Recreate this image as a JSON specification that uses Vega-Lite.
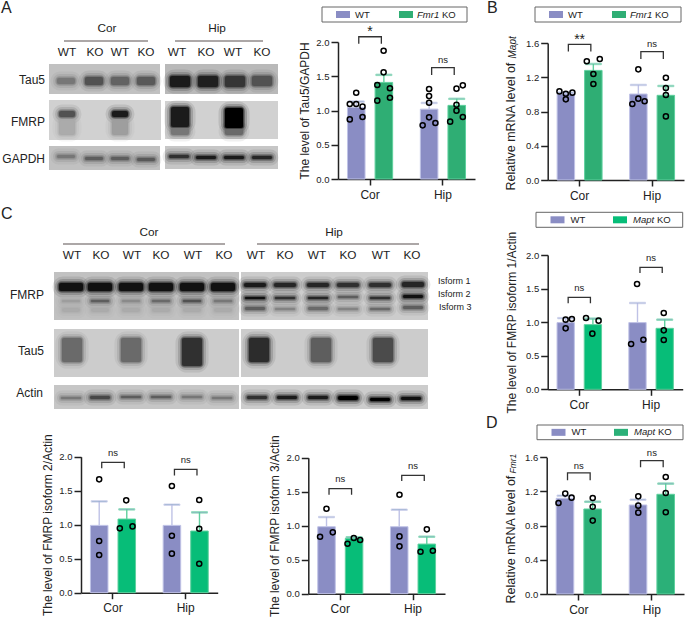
{
"$schema":"https://vega.github.io/schema/vega-lite/v6.json",
"background":"white",
"padding":0,
"autosize":{"type":"none"},
"width":685,"height":618,
"config":{"font":"Liberation Sans","view":{"stroke":null},
"axis":{"grid":false,"domainColor":"#222222","tickColor":"#222222","labelColor":"#222222","titleColor":"#222222","domainWidth":1.5,"tickWidth":1.5,"titleFontWeight":"normal"},
"axisY":{"tickSize":7,"labelFontSize":9.5,"titleFontSize":12,"labelPadding":2,"titleX":-27},
"axisX":{"tickSize":6,"labelFontSize":12,"labelPadding":4,"title":null,"labelAngle":0}},
"datasets":{
"legendFmr1":[{"genotype":"WT","gene":""},{"genotype":"KO","gene":"Fmr1"}],
"legendMapt":[{"genotype":"WT","gene":""},{"genotype":"KO","gene":"Mapt"}],
"panels":[
{"x0":49,"x1":160,"y0":64,"y1":94,"shade":0.22},{"x0":165,"x1":278,"y0":64,"y1":94,"shade":0.25},
{"x0":49,"x1":161,"y0":100,"y1":140,"shade":0.16},{"x0":165,"x1":278,"y0":101,"y1":139,"shade":0.16},
{"x0":49,"x1":160,"y0":146,"y1":170,"shade":0.22},{"x0":165,"x1":278,"y0":146,"y1":169,"shade":0.2},
{"x0":54,"x1":239,"y0":272,"y1":320,"shade":0.22},{"x0":241,"x1":428,"y0":272,"y1":320,"shade":0.18},
{"x0":54,"x1":239,"y0":329,"y1":377,"shade":0.18},{"x0":241,"x1":428,"y0":329,"y1":377,"shade":0.18},
{"x0":54,"x1":239,"y0":385,"y1":409,"shade":0.2},{"x0":241,"x1":428,"y0":385,"y1":409,"shade":0.18}],
"bands":[
{"x0":57,"x1":75,"y0":78,"y1":84,"shade":0.5},{"x0":85,"x1":103,"y0":77,"y1":85,"shade":0.65},{"x0":111,"x1":129,"y0":77,"y1":85,"shade":0.58},{"x0":137,"x1":155,"y0":77,"y1":85,"shade":0.62},
{"x0":170,"x1":190,"y0":76,"y1":87,"shade":0.9},{"x0":198,"x1":218,"y0":76,"y1":87,"shade":0.88},{"x0":225,"x1":245,"y0":76,"y1":87,"shade":0.78},{"x0":252,"x1":272,"y0":76,"y1":86,"shade":0.65},
{"x0":59,"x1":75,"y0":120,"y1":135,"shade":0.3},{"x0":112,"x1":128,"y0":120,"y1":135,"shade":0.35},{"x0":59,"x1":75,"y0":111,"y1":117,"shade":0.65},{"x0":112,"x1":128,"y0":111,"y1":117,"shade":0.9},
{"x0":171,"x1":189,"y0":128,"y1":135,"shade":0.5},{"x0":225,"x1":243,"y0":128,"y1":135,"shade":0.55},{"x0":171,"x1":189,"y0":107,"y1":127,"shade":0.9},{"x0":225,"x1":243,"y0":108,"y1":128,"shade":1},
{"x0":57,"x1":75,"y0":155,"y1":158,"shade":0.5},{"x0":85,"x1":103,"y0":157,"y1":160,"shade":0.6},{"x0":111,"x1":129,"y0":157,"y1":160,"shade":0.6},{"x0":137,"x1":155,"y0":158,"y1":161,"shade":0.62},
{"x0":169,"x1":189,"y0":155,"y1":158,"shade":0.8},{"x0":196,"x1":216,"y0":156,"y1":159,"shade":0.9},{"x0":224,"x1":244,"y0":156,"y1":159,"shade":0.9},{"x0":252,"x1":272,"y0":156,"y1":159,"shade":0.85},
{"x0":59,"x1":83,"y0":283,"y1":291,"shade":0.95},{"x0":88,"x1":112,"y0":283,"y1":291,"shade":0.95},{"x0":119,"x1":143,"y0":283,"y1":291,"shade":0.95},{"x0":149,"x1":173,"y0":283,"y1":291,"shade":0.95},{"x0":180,"x1":204,"y0":283,"y1":291,"shade":0.95},{"x0":211,"x1":235,"y0":283,"y1":291,"shade":0.95},
{"x0":62,"x1":80,"y0":300,"y1":302,"shade":0.35},{"x0":91,"x1":109,"y0":300,"y1":302,"shade":0.6},{"x0":122,"x1":140,"y0":300,"y1":302,"shade":0.42},{"x0":152,"x1":170,"y0":300,"y1":302,"shade":0.55},{"x0":183,"x1":201,"y0":300,"y1":302,"shade":0.65},{"x0":214,"x1":232,"y0":300,"y1":302,"shade":0.5},
{"x0":62,"x1":80,"y0":308,"y1":312,"shade":0.3},{"x0":91,"x1":109,"y0":308,"y1":312,"shade":0.3},{"x0":122,"x1":140,"y0":308,"y1":312,"shade":0.3},{"x0":152,"x1":170,"y0":308,"y1":312,"shade":0.3},{"x0":183,"x1":201,"y0":308,"y1":312,"shade":0.3},{"x0":214,"x1":232,"y0":308,"y1":312,"shade":0.3},
{"x0":244,"x1":266,"y0":283,"y1":287,"shade":0.9},{"x0":274,"x1":296,"y0":283,"y1":287,"shade":0.85},{"x0":307,"x1":329,"y0":283,"y1":287,"shade":0.85},{"x0":337,"x1":359,"y0":283,"y1":287,"shade":0.8},{"x0":369,"x1":391,"y0":283,"y1":287,"shade":0.8},{"x0":402,"x1":424,"y0":282,"y1":287,"shade":0.85},
{"x0":245,"x1":265,"y0":297,"y1":299,"shade":0.95},{"x0":275,"x1":295,"y0":297,"y1":299,"shade":0.8},{"x0":308,"x1":328,"y0":297,"y1":299,"shade":0.85},{"x0":338,"x1":358,"y0":296,"y1":298,"shade":0.6},{"x0":370,"x1":390,"y0":297,"y1":299,"shade":0.8},{"x0":403,"x1":423,"y0":295,"y1":298,"shade":0.95},
{"x0":245,"x1":265,"y0":307,"y1":310,"shade":0.6},{"x0":275,"x1":295,"y0":308,"y1":310,"shade":0.45},{"x0":308,"x1":328,"y0":307,"y1":310,"shade":0.55},{"x0":338,"x1":358,"y0":308,"y1":310,"shade":0.45},{"x0":370,"x1":390,"y0":308,"y1":310,"shade":0.55},{"x0":403,"x1":423,"y0":306,"y1":309,"shade":0.6},
{"x0":62,"x1":82,"y0":338,"y1":362,"shade":0.55},{"x0":121,"x1":141,"y0":338,"y1":362,"shade":0.55},{"x0":182,"x1":202,"y0":338,"y1":366,"shade":0.8},
{"x0":249,"x1":269,"y0":338,"y1":362,"shade":0.82},{"x0":311,"x1":331,"y0":338,"y1":362,"shade":0.6},{"x0":373,"x1":393,"y0":338,"y1":362,"shade":0.68},
{"x0":61,"x1":81,"y0":397,"y1":399,"shade":0.5},{"x0":90,"x1":110,"y0":396,"y1":399,"shade":0.7},{"x0":121,"x1":141,"y0":396,"y1":398,"shade":0.6},{"x0":151,"x1":171,"y0":396,"y1":398,"shade":0.6},{"x0":182,"x1":202,"y0":396,"y1":398,"shade":0.5},{"x0":212,"x1":232,"y0":397,"y1":399,"shade":0.5},
{"x0":247,"x1":267,"y0":396,"y1":399,"shade":0.8},{"x0":277,"x1":297,"y0":396,"y1":399,"shade":0.9},{"x0":308,"x1":328,"y0":396,"y1":399,"shade":0.9},{"x0":338,"x1":358,"y0":396,"y1":400,"shade":1},{"x0":370,"x1":390,"y0":398,"y1":401,"shade":1},{"x0":401,"x1":421,"y0":397,"y1":400,"shade":0.95}],
"lanes":[{"label":"Cor","x0":107,"y0":28},{"label":"Hip","x0":217,"y0":28},
{"label":"WT","x0":67,"y0":52},{"label":"KO","x0":95,"y0":52},{"label":"WT","x0":120,"y0":52},{"label":"KO","x0":146,"y0":52},{"label":"WT","x0":177,"y0":52},{"label":"KO","x0":206,"y0":52},{"label":"WT","x0":233,"y0":52},{"label":"KO","x0":262,"y0":52},
{"label":"Cor","x0":149,"y0":232},{"label":"Hip","x0":334,"y0":232},
{"label":"WT","x0":72,"y0":255},{"label":"KO","x0":101,"y0":255},{"label":"WT","x0":132,"y0":255},{"label":"KO","x0":161,"y0":255},{"label":"WT","x0":193,"y0":255},{"label":"KO","x0":224,"y0":255},{"label":"WT","x0":256,"y0":255},{"label":"KO","x0":285,"y0":255},{"label":"WT","x0":317,"y0":255},{"label":"KO","x0":348,"y0":255},{"label":"WT","x0":381,"y0":255},{"label":"KO","x0":412,"y0":255}],
"rows":[{"label":"Tau5","x0":45,"y0":80},{"label":"FMRP","x0":45,"y0":122},{"label":"GAPDH","x0":45,"y0":159},{"label":"FMRP","x0":44,"y0":295},{"label":"Tau5","x0":44,"y0":351},{"label":"Actin","x0":43,"y0":393}],
"iso":[{"label":"Isform 1","x0":438,"y0":281},{"label":"Isform 2","x0":438,"y0":294},{"label":"Isform 3","x0":439,"y0":307}],
"lines":[{"x0":64,"x1":148,"y0":41},{"x0":175,"x1":263,"y0":41},{"x0":63,"x1":225,"y0":244},{"x0":257,"x1":419,"y0":244}],
"letters":[{"label":"A","x0":1,"y0":8},{"label":"B","x0":487,"y0":8},{"label":"C","x0":1,"y0":214},{"label":"D","x0":486,"y0":423}],
"barsA":[{"group":"Cor","genotype":"WT","mean":1.046,"upper":1.13},{"group":"Cor","genotype":"KO","mean":1.41,"upper":1.52},{"group":"Hip","genotype":"WT","mean":1.02,"upper":1.11},{"group":"Hip","genotype":"KO","mean":1.075,"upper":1.17}],
"ptsA":[{"group":"Cor","jitter":2.3,"value":0.87},{"group":"Cor","jitter":2.3,"value":1.095},{"group":"Cor","jitter":8.7,"value":1.26},{"group":"Cor","jitter":8.7,"value":1.095},{"group":"Cor","jitter":15,"value":1.056},{"group":"Cor","jitter":15,"value":0.905},
{"group":"Cor","jitter":36,"value":1.873},{"group":"Cor","jitter":36,"value":1.557},{"group":"Cor","jitter":29.7,"value":1.372},{"group":"Cor","jitter":42.3,"value":1.324},{"group":"Cor","jitter":29.7,"value":1.144},{"group":"Cor","jitter":42.3,"value":1.187},
{"group":"Hip","jitter":8.7,"value":1.314},{"group":"Hip","jitter":8.7,"value":1.21},{"group":"Hip","jitter":8.7,"value":1.114},{"group":"Hip","jitter":8.7,"value":0.9},{"group":"Hip","jitter":2.3,"value":0.783},{"group":"Hip","jitter":15,"value":0.817},
{"group":"Hip","jitter":36,"value":1.319},{"group":"Hip","jitter":42.3,"value":1.367},{"group":"Hip","jitter":36,"value":1.085},{"group":"Hip","jitter":36,"value":0.998},{"group":"Hip","jitter":29.7,"value":0.837},{"group":"Hip","jitter":42.3,"value":0.905}],
"brA":[{"group":"Cor","genotype":"WT","y":1.975,"seq":1},{"group":"Cor","genotype":"WT","y":2.077,"seq":2},{"group":"Cor","genotype":"KO","y":2.077,"seq":3},{"group":"Cor","genotype":"KO","y":1.975,"seq":4},
{"group":"Hip","genotype":"WT","y":1.52,"seq":1},{"group":"Hip","genotype":"WT","y":1.625,"seq":2},{"group":"Hip","genotype":"KO","y":1.625,"seq":3},{"group":"Hip","genotype":"KO","y":1.52,"seq":4}],
"sigA":[{"group":"Cor","y":2.14,"label":"*"},{"group":"Hip","y":1.74,"label":"ns"}],
"barsB":[{"group":"Cor","genotype":"WT","mean":1.004,"upper":1.02},{"group":"Cor","genotype":"KO","mean":1.28,"upper":1.355},{"group":"Hip","genotype":"WT","mean":1.004,"upper":1.11},{"group":"Hip","genotype":"KO","mean":0.989,"upper":1.098}],
"ptsB":[{"group":"Cor","jitter":2.3,"value":1.035},{"group":"Cor","jitter":8.7,"value":0.942},{"group":"Cor","jitter":8.7,"value":1.008},{"group":"Cor","jitter":15.3,"value":1.02},
{"group":"Cor","jitter":29.7,"value":1.386},{"group":"Cor","jitter":42.7,"value":1.413},{"group":"Cor","jitter":36.3,"value":1.238},{"group":"Cor","jitter":36.3,"value":1.121},
{"group":"Hip","jitter":8.7,"value":1.292},{"group":"Hip","jitter":8.7,"value":0.95},{"group":"Hip","jitter":2.7,"value":0.887},{"group":"Hip","jitter":15,"value":0.919},
{"group":"Hip","jitter":36.3,"value":1.195},{"group":"Hip","jitter":36.3,"value":1.074},{"group":"Hip","jitter":36.3,"value":0.993},{"group":"Hip","jitter":36.3,"value":0.743}],
"brB":[{"group":"Cor","genotype":"WT","y":1.5,"seq":1},{"group":"Cor","genotype":"WT","y":1.584,"seq":2},{"group":"Cor","genotype":"KO","y":1.584,"seq":3},{"group":"Cor","genotype":"KO","y":1.5,"seq":4},
{"group":"Hip","genotype":"WT","y":1.413,"seq":1},{"group":"Hip","genotype":"WT","y":1.5,"seq":2},{"group":"Hip","genotype":"KO","y":1.5,"seq":3},{"group":"Hip","genotype":"KO","y":1.413,"seq":4}],
"sigB":[{"group":"Cor","y":1.64,"label":"**"},{"group":"Hip","y":1.584,"label":"ns"}],
"barsC1":[{"group":"Cor","genotype":"WT","mean":0.993,"upper":1.06},{"group":"Cor","genotype":"KO","mean":0.963,"upper":1.052},{"group":"Hip","genotype":"WT","mean":0.993,"upper":1.285},{"group":"Hip","genotype":"KO","mean":0.908,"upper":1.037}],
"ptsC1":[{"group":"Cor","jitter":8.7,"value":1.037},{"group":"Cor","jitter":15,"value":1.047},{"group":"Cor","jitter":8.7,"value":0.908},{"group":"Cor","jitter":29.3,"value":1.062},{"group":"Cor","jitter":42,"value":1.022},{"group":"Cor","jitter":35.7,"value":0.829},
{"group":"Hip","jitter":8.3,"value":1.568},{"group":"Hip","jitter":2.3,"value":0.675},{"group":"Hip","jitter":14.7,"value":0.739},{"group":"Hip","jitter":35.3,"value":1.136},{"group":"Hip","jitter":35.3,"value":0.878},{"group":"Hip","jitter":35.3,"value":0.734}],
"brC1":[{"group":"Cor","genotype":"WT","y":1.28,"seq":1},{"group":"Cor","genotype":"WT","y":1.37,"seq":2},{"group":"Cor","genotype":"KO","y":1.37,"seq":3},{"group":"Cor","genotype":"KO","y":1.28,"seq":4},
{"group":"Hip","genotype":"WT","y":1.732,"seq":1},{"group":"Hip","genotype":"WT","y":1.816,"seq":2},{"group":"Hip","genotype":"KO","y":1.816,"seq":3},{"group":"Hip","genotype":"KO","y":1.732,"seq":4}],
"sigC1":[{"group":"Cor","y":1.504,"label":"ns"},{"group":"Hip","y":1.95,"label":"ns"}],
"barsD":[{"group":"Cor","genotype":"WT","mean":1.12,"upper":1.15},{"group":"Cor","genotype":"KO","mean":0.995,"upper":1.08},{"group":"Hip","genotype":"WT","mean":1.042,"upper":1.104},{"group":"Hip","genotype":"KO","mean":1.167,"upper":1.292}],
"ptsD":[{"group":"Cor","jitter":2.3,"value":1.065},{"group":"Cor","jitter":9,"value":1.175},{"group":"Cor","jitter":15.3,"value":1.128},{"group":"Cor","jitter":36.3,"value":1.124},{"group":"Cor","jitter":36.3,"value":1.022},{"group":"Cor","jitter":36.3,"value":0.859},
{"group":"Hip","jitter":9,"value":1.143},{"group":"Hip","jitter":9,"value":1.034},{"group":"Hip","jitter":9,"value":0.952},{"group":"Hip","jitter":36.3,"value":1.37},{"group":"Hip","jitter":36.3,"value":1.182},{"group":"Hip","jitter":36.3,"value":0.956}],
"brD":[{"group":"Cor","genotype":"WT","y":1.33,"seq":1},{"group":"Cor","genotype":"WT","y":1.417,"seq":2},{"group":"Cor","genotype":"KO","y":1.417,"seq":3},{"group":"Cor","genotype":"KO","y":1.33,"seq":4},
{"group":"Hip","genotype":"WT","y":1.483,"seq":1},{"group":"Hip","genotype":"WT","y":1.561,"seq":2},{"group":"Hip","genotype":"KO","y":1.561,"seq":3},{"group":"Hip","genotype":"KO","y":1.483,"seq":4}],
"sigD":[{"group":"Cor","y":1.5,"label":"ns"},{"group":"Hip","y":1.647,"label":"ns"}],
"barsC2":[{"group":"Cor","genotype":"WT","mean":0.99,"upper":1.343},{"group":"Cor","genotype":"KO","mean":1.083,"upper":1.225},{"group":"Hip","genotype":"WT","mean":0.99,"upper":1.294},{"group":"Hip","genotype":"KO","mean":0.907,"upper":1.181}],
"ptsC2":[{"group":"Cor","jitter":8.7,"value":1.667},{"group":"Cor","jitter":8.7,"value":0.76},{"group":"Cor","jitter":8.7,"value":0.554},{"group":"Cor","jitter":35.7,"value":1.358},{"group":"Cor","jitter":29.3,"value":0.946},{"group":"Cor","jitter":42,"value":0.975},
{"group":"Hip","jitter":8.7,"value":1.569},{"group":"Hip","jitter":8.7,"value":0.838},{"group":"Hip","jitter":8.7,"value":0.574},{"group":"Hip","jitter":36,"value":1.363},{"group":"Hip","jitter":36,"value":0.941},{"group":"Hip","jitter":36,"value":0.426}],
"brC2":[{"group":"Cor","genotype":"WT","y":1.83,"seq":1},{"group":"Cor","genotype":"WT","y":1.917,"seq":2},{"group":"Cor","genotype":"KO","y":1.917,"seq":3},{"group":"Cor","genotype":"KO","y":1.83,"seq":4},
{"group":"Hip","genotype":"WT","y":1.725,"seq":1},{"group":"Hip","genotype":"WT","y":1.814,"seq":2},{"group":"Hip","genotype":"KO","y":1.814,"seq":3},{"group":"Hip","genotype":"KO","y":1.725,"seq":4}],
"sigC2":[{"group":"Cor","y":2.05,"label":"ns"},{"group":"Hip","y":1.95,"label":"ns"}],
"barsC3":[{"group":"Cor","genotype":"WT","mean":0.985,"upper":1.127},{"group":"Cor","genotype":"KO","mean":0.814,"upper":0.83},{"group":"Hip","genotype":"WT","mean":0.985,"upper":1.235},{"group":"Hip","genotype":"KO","mean":0.73,"upper":0.838}],
"ptsC3":[{"group":"Cor","jitter":8.7,"value":1.25},{"group":"Cor","jitter":2.3,"value":0.838},{"group":"Cor","jitter":15,"value":0.902},{"group":"Cor","jitter":29.7,"value":0.735},{"group":"Cor","jitter":36,"value":0.819},{"group":"Cor","jitter":42.3,"value":0.789},
{"group":"Hip","jitter":9,"value":1.456},{"group":"Hip","jitter":9,"value":0.843},{"group":"Hip","jitter":9,"value":0.696},{"group":"Hip","jitter":36.3,"value":0.946},{"group":"Hip","jitter":30,"value":0.618},{"group":"Hip","jitter":42.3,"value":0.632}],
"brC3":[{"group":"Cor","genotype":"WT","y":1.456,"seq":1},{"group":"Cor","genotype":"WT","y":1.544,"seq":2},{"group":"Cor","genotype":"KO","y":1.544,"seq":3},{"group":"Cor","genotype":"KO","y":1.456,"seq":4},
{"group":"Hip","genotype":"WT","y":1.657,"seq":1},{"group":"Hip","genotype":"WT","y":1.74,"seq":2},{"group":"Hip","genotype":"KO","y":1.74,"seq":3},{"group":"Hip","genotype":"KO","y":1.657,"seq":4}],
"sigC3":[{"group":"Cor","y":1.68,"label":"ns"},{"group":"Hip","y":1.877,"label":"ns"}]
},
"resolve":{"scale":{"x":"independent","y":"independent","xOffset":"independent","fill":"independent","stroke":"independent","size":"independent"},"axis":{"x":"independent","y":"independent"}},
"layer":[
{"encoding":{"x":{"field":"x0","type":"quantitative","scale":{"domain":[0,685],"nice":false,"zero":false},"axis":null},"y":{"field":"y0","type":"quantitative","scale":{"domain":[618,0],"nice":false,"zero":false},"axis":null}},
 "layer":[
  {"data":{"name":"panels"},"mark":{"type":"rect"},"encoding":{"x2":{"field":"x1"},"y2":{"field":"y1"},"fill":{"field":"shade","type":"quantitative","scale":{"domain":[0,1],"range":["#ffffff","#000000"]},"legend":null}}},
  {"data":{"name":"bands"},"mark":{"type":"rect","cornerRadius":5,"strokeWidth":13,"strokeOpacity":0.1,"fillOpacity":0},"encoding":{"x2":{"field":"x1"},"y2":{"field":"y1"},"fill":{"field":"shade","type":"quantitative","scale":{"domain":[0,1],"range":["#ffffff","#000000"]},"legend":null},"stroke":{"field":"shade","type":"quantitative","scale":{"domain":[0,1],"range":["#ffffff","#000000"]},"legend":null}}},
  {"data":{"name":"bands"},"mark":{"type":"rect","cornerRadius":4,"strokeWidth":8,"strokeOpacity":0.18,"fillOpacity":0},"encoding":{"x2":{"field":"x1"},"y2":{"field":"y1"},"fill":{"field":"shade","type":"quantitative","scale":{"domain":[0,1],"range":["#ffffff","#000000"]},"legend":null},"stroke":{"field":"shade","type":"quantitative","scale":{"domain":[0,1],"range":["#ffffff","#000000"]},"legend":null}}},
  {"data":{"name":"bands"},"mark":{"type":"rect","cornerRadius":3,"strokeWidth":4,"strokeOpacity":0.3,"fillOpacity":0},"encoding":{"x2":{"field":"x1"},"y2":{"field":"y1"},"fill":{"field":"shade","type":"quantitative","scale":{"domain":[0,1],"range":["#ffffff","#000000"]},"legend":null},"stroke":{"field":"shade","type":"quantitative","scale":{"domain":[0,1],"range":["#ffffff","#000000"]},"legend":null}}},
  {"data":{"name":"bands"},"mark":{"type":"rect","cornerRadius":2,"strokeWidth":1.5,"strokeOpacity":0.5,"fillOpacity":1},"encoding":{"x2":{"field":"x1"},"y2":{"field":"y1"},"fill":{"field":"shade","type":"quantitative","scale":{"domain":[0,1],"range":["#ffffff","#000000"]},"legend":null},"stroke":{"field":"shade","type":"quantitative","scale":{"domain":[0,1],"range":["#ffffff","#000000"]},"legend":null}}},
  {"data":{"name":"lines"},"mark":{"type":"rule","stroke":"#5a5050","strokeWidth":1.2},"encoding":{"x2":{"field":"x1"}}},
  {"data":{"name":"lanes"},"mark":{"type":"text","fontSize":11.8,"align":"center","baseline":"middle","fill":"#222222"},"encoding":{"text":{"field":"label"}}},
  {"data":{"name":"rows"},"mark":{"type":"text","fontSize":12,"align":"right","baseline":"middle","fill":"#222222"},"encoding":{"text":{"field":"label"}}},
  {"data":{"name":"iso"},"mark":{"type":"text","fontSize":9,"align":"left","baseline":"middle","fill":"#222222"},"encoding":{"text":{"field":"label"}}},
  {"data":{"name":"letters"},"mark":{"type":"text","fontSize":16,"align":"left","baseline":"middle","fill":"#222222"},"encoding":{"text":{"field":"label"}}}
 ]},
{"resolve":{"scale":{"x":"independent"}},"encoding":{"y":{"datum":0.5,"type":"quantitative","scale":{"domain":[0,1],"range":[22,7]},"axis":null}},"layer":[
  {"data":{"values":[{}]},"mark":{"type":"rect","fill":null,"fillOpacity":0,"stroke":"#666666","strokeWidth":1},"encoding":{"x":{"datum":0,"type":"quantitative","scale":{"domain":[0,1],"range":[322,467]},"axis":null},"x2":{"datum":1},"y":{"datum":0,"type":"quantitative","scale":{"domain":[0,1],"range":[22,7]},"axis":null},"y2":{"datum":1}}},
  {"data":{"name":"legendFmr1"},"mark":{"type":"point","filled":true,"opacity":1,"size":196,"shape":"M-1,-0.5H1V0.5H-1Z"},"encoding":{"x":{"field":"genotype","type":"nominal","scale":{"type":"point","padding":0,"domain":["WT","KO"],"range":[343,406]},"axis":null},"fill":{"field":"genotype","type":"nominal","scale":{"domain":["WT","KO"],"range":["#8A8DC4","#2FAE74"]},"legend":null}}},
  {"data":{"name":"legendFmr1"},"transform":[{"filter":"datum.genotype==='WT'"}],"mark":{"type":"text","fontSize":9.5,"align":"left","dx":12,"fill":"#222222"},"encoding":{"x":{"field":"genotype","type":"nominal","scale":{"type":"point","padding":0,"domain":["WT","KO"],"range":[343,406]},"axis":null},"text":{"field":"genotype"}}},
  {"data":{"name":"legendFmr1"},"transform":[{"filter":"datum.genotype==='KO'"}],"mark":{"type":"text","fontSize":9.5,"align":"left","dx":11,"fontStyle":"italic","fill":"#222222"},"encoding":{"x":{"field":"genotype","type":"nominal","scale":{"type":"point","padding":0,"domain":["WT","KO"],"range":[343,406]},"axis":null},"text":{"field":"gene"}}},
  {"data":{"name":"legendFmr1"},"transform":[{"filter":"datum.genotype==='KO'"}],"mark":{"type":"text","fontSize":9.5,"align":"left","dx":36,"fill":"#222222"},"encoding":{"x":{"field":"genotype","type":"nominal","scale":{"type":"point","padding":0,"domain":["WT","KO"],"range":[343,406]},"axis":null},"text":{"field":"genotype"}}}
 ]},
{"resolve":{"scale":{"x":"independent"}},"encoding":{"y":{"datum":0.5,"type":"quantitative","scale":{"domain":[0,1],"range":[22,7]},"axis":null}},"layer":[
  {"data":{"values":[{}]},"mark":{"type":"rect","fill":null,"fillOpacity":0,"stroke":"#666666","strokeWidth":1},"encoding":{"x":{"datum":0,"type":"quantitative","scale":{"domain":[0,1],"range":[535,681]},"axis":null},"x2":{"datum":1},"y":{"datum":0,"type":"quantitative","scale":{"domain":[0,1],"range":[22,7]},"axis":null},"y2":{"datum":1}}},
  {"data":{"name":"legendFmr1"},"mark":{"type":"point","filled":true,"opacity":1,"size":196,"shape":"M-1,-0.5H1V0.5H-1Z"},"encoding":{"x":{"field":"genotype","type":"nominal","scale":{"type":"point","padding":0,"domain":["WT","KO"],"range":[556,619]},"axis":null},"fill":{"field":"genotype","type":"nominal","scale":{"domain":["WT","KO"],"range":["#8A8DC4","#2FAE74"]},"legend":null}}},
  {"data":{"name":"legendFmr1"},"transform":[{"filter":"datum.genotype==='WT'"}],"mark":{"type":"text","fontSize":9.5,"align":"left","dx":12,"fill":"#222222"},"encoding":{"x":{"field":"genotype","type":"nominal","scale":{"type":"point","padding":0,"domain":["WT","KO"],"range":[556,619]},"axis":null},"text":{"field":"genotype"}}},
  {"data":{"name":"legendFmr1"},"transform":[{"filter":"datum.genotype==='KO'"}],"mark":{"type":"text","fontSize":9.5,"align":"left","dx":11,"fontStyle":"italic","fill":"#222222"},"encoding":{"x":{"field":"genotype","type":"nominal","scale":{"type":"point","padding":0,"domain":["WT","KO"],"range":[556,619]},"axis":null},"text":{"field":"gene"}}},
  {"data":{"name":"legendFmr1"},"transform":[{"filter":"datum.genotype==='KO'"}],"mark":{"type":"text","fontSize":9.5,"align":"left","dx":36,"fill":"#222222"},"encoding":{"x":{"field":"genotype","type":"nominal","scale":{"type":"point","padding":0,"domain":["WT","KO"],"range":[556,619]},"axis":null},"text":{"field":"genotype"}}}
 ]},
{"resolve":{"scale":{"x":"independent"}},"encoding":{"y":{"datum":0.5,"type":"quantitative","scale":{"domain":[0,1],"range":[227.3,212.3]},"axis":null}},"layer":[
  {"data":{"values":[{}]},"mark":{"type":"rect","fill":null,"fillOpacity":0,"stroke":"#666666","strokeWidth":1},"encoding":{"x":{"datum":0,"type":"quantitative","scale":{"domain":[0,1],"range":[536,682.7]},"axis":null},"x2":{"datum":1},"y":{"datum":0,"type":"quantitative","scale":{"domain":[0,1],"range":[227.3,212.3]},"axis":null},"y2":{"datum":1}}},
  {"data":{"name":"legendMapt"},"mark":{"type":"point","filled":true,"opacity":1,"size":196,"shape":"M-1,-0.5H1V0.5H-1Z"},"encoding":{"x":{"field":"genotype","type":"nominal","scale":{"type":"point","padding":0,"domain":["WT","KO"],"range":[557.5,620]},"axis":null},"fill":{"field":"genotype","type":"nominal","scale":{"domain":["WT","KO"],"range":["#8A8DC4","#07BD78"]},"legend":null}}},
  {"data":{"name":"legendMapt"},"transform":[{"filter":"datum.genotype==='WT'"}],"mark":{"type":"text","fontSize":9.5,"align":"left","dx":13,"fill":"#222222"},"encoding":{"x":{"field":"genotype","type":"nominal","scale":{"type":"point","padding":0,"domain":["WT","KO"],"range":[557.5,620]},"axis":null},"text":{"field":"genotype"}}},
  {"data":{"name":"legendMapt"},"transform":[{"filter":"datum.genotype==='KO'"}],"mark":{"type":"text","fontSize":9.5,"align":"left","dx":13,"fontStyle":"italic","fill":"#222222"},"encoding":{"x":{"field":"genotype","type":"nominal","scale":{"type":"point","padding":0,"domain":["WT","KO"],"range":[557.5,620]},"axis":null},"text":{"field":"gene"}}},
  {"data":{"name":"legendMapt"},"transform":[{"filter":"datum.genotype==='KO'"}],"mark":{"type":"text","fontSize":9.5,"align":"left","dx":37,"fill":"#222222"},"encoding":{"x":{"field":"genotype","type":"nominal","scale":{"type":"point","padding":0,"domain":["WT","KO"],"range":[557.5,620]},"axis":null},"text":{"field":"genotype"}}}
 ]},
{"resolve":{"scale":{"x":"independent"}},"encoding":{"y":{"datum":0.5,"type":"quantitative","scale":{"domain":[0,1],"range":[439.7,425]},"axis":null}},"layer":[
  {"data":{"values":[{}]},"mark":{"type":"rect","fill":null,"fillOpacity":0,"stroke":"#666666","strokeWidth":1},"encoding":{"x":{"datum":0,"type":"quantitative","scale":{"domain":[0,1],"range":[537,683]},"axis":null},"x2":{"datum":1},"y":{"datum":0,"type":"quantitative","scale":{"domain":[0,1],"range":[439.7,425]},"axis":null},"y2":{"datum":1}}},
  {"data":{"name":"legendMapt"},"mark":{"type":"point","filled":true,"opacity":1,"size":196,"shape":"M-1,-0.5H1V0.5H-1Z"},"encoding":{"x":{"field":"genotype","type":"nominal","scale":{"type":"point","padding":0,"domain":["WT","KO"],"range":[558.5,621]},"axis":null},"fill":{"field":"genotype","type":"nominal","scale":{"domain":["WT","KO"],"range":["#8A8DC4","#2BB078"]},"legend":null}}},
  {"data":{"name":"legendMapt"},"transform":[{"filter":"datum.genotype==='WT'"}],"mark":{"type":"text","fontSize":9.5,"align":"left","dx":13,"fill":"#222222"},"encoding":{"x":{"field":"genotype","type":"nominal","scale":{"type":"point","padding":0,"domain":["WT","KO"],"range":[558.5,621]},"axis":null},"text":{"field":"genotype"}}},
  {"data":{"name":"legendMapt"},"transform":[{"filter":"datum.genotype==='KO'"}],"mark":{"type":"text","fontSize":9.5,"align":"left","dx":13,"fontStyle":"italic","fill":"#222222"},"encoding":{"x":{"field":"genotype","type":"nominal","scale":{"type":"point","padding":0,"domain":["WT","KO"],"range":[558.5,621]},"axis":null},"text":{"field":"gene"}}},
  {"data":{"name":"legendMapt"},"transform":[{"filter":"datum.genotype==='KO'"}],"mark":{"type":"text","fontSize":9.5,"align":"left","dx":37,"fill":"#222222"},"encoding":{"x":{"field":"genotype","type":"nominal","scale":{"type":"point","padding":0,"domain":["WT","KO"],"range":[558.5,621]},"axis":null},"text":{"field":"genotype"}}}
 ]},
{"resolve":{"scale":{"xOffset":"independent"},"axis":{"y":"independent"}},
 "encoding":{"x":{"field":"group","type":"nominal","scale":{"domain":["Cor","Hip"],"range":[338,475],"paddingInner":0.38,"paddingOuter":0.13},"axis":{"orient":"bottom","offset":-439}}},
 "layer":[
  {"data":{"name":"barsA"},"mark":{"type":"bar","strokeWidth":1},"encoding":{"xOffset":{"field":"genotype","type":"nominal","scale":{"domain":["WT","KO"],"paddingInner":0.364}},"y":{"field":"mean","type":"quantitative","stack":null,"scale":{"domain":[0,2],"nice":false,"range":[179,42]},"axis":{"orient":"left","offset":-338,"title":"The level of Tau5/GAPDH","values":[0,0.5,1,1.5,2],"format":".1f"}},"fill":{"field":"genotype","type":"nominal","scale":{"domain":["WT","KO"],"range":["#8A8DC4","#2FAE74"]},"legend":null},"stroke":{"field":"genotype","type":"nominal","scale":{"domain":["WT","KO"],"range":["#BFC2E6","#5FD09E"]},"legend":null}}},
  {"data":{"name":"barsA"},"mark":{"type":"rule","strokeWidth":1.4},"encoding":{"xOffset":{"field":"genotype","type":"nominal","scale":{"domain":["WT","KO"],"paddingInner":0.364}},"y":{"field":"mean","type":"quantitative","scale":{"domain":[0,2],"nice":false,"range":[179,42]},"axis":null},"y2":{"field":"upper"},"stroke":{"field":"genotype","type":"nominal","scale":{"domain":["WT","KO"],"range":["#A4A8DC","#2CC48C"]},"legend":null}}},
  {"data":{"name":"barsA"},"mark":{"type":"tick","size":16,"thickness":1.4},"encoding":{"xOffset":{"field":"genotype","type":"nominal","scale":{"domain":["WT","KO"],"paddingInner":0.364}},"y":{"field":"upper","type":"quantitative","scale":{"domain":[0,2],"nice":false,"range":[179,42]},"axis":null},"stroke":{"field":"genotype","type":"nominal","scale":{"domain":["WT","KO"],"range":["#A4A8DC","#2CC48C"]},"legend":null}}},
  {"data":{"name":"ptsA"},"mark":{"type":"point","filled":false,"size":26,"stroke":"#000000","strokeWidth":1.5,"opacity":1},"encoding":{"xOffset":{"field":"jitter","type":"quantitative","scale":{"domain":[0,45]}},"y":{"field":"value","type":"quantitative","scale":{"domain":[0,2],"nice":false,"range":[179,42]},"axis":null}}},
  {"data":{"name":"brA"},"mark":{"type":"line","stroke":"#333333","strokeWidth":1.3},"encoding":{"xOffset":{"field":"genotype","type":"nominal","scale":{"domain":["WT","KO"],"paddingInner":0.364}},"y":{"field":"y","type":"quantitative","scale":{"domain":[0,2],"nice":false,"range":[179,42]},"axis":null},"detail":{"field":"group"},"order":{"field":"seq"}}},
  {"data":{"name":"sigA"},"mark":{"type":"text","fill":"#222222"},"encoding":{"y":{"field":"y","type":"quantitative","scale":{"domain":[0,2],"nice":false,"range":[179,42]},"axis":null},"text":{"field":"label"},"size":{"condition":{"test":"datum.label!=='ns'","value":14},"value":9.5}}}
 ]},
{"resolve":{"scale":{"xOffset":"independent"},"axis":{"y":"independent"}},
 "encoding":{"x":{"field":"group","type":"nominal","scale":{"domain":["Cor","Hip"],"range":[547.7,684],"paddingInner":0.38,"paddingOuter":0.13},"axis":{"orient":"bottom","offset":-438}}},
 "layer":[
  {"data":{"name":"barsB"},"mark":{"type":"bar","strokeWidth":1},"encoding":{"xOffset":{"field":"genotype","type":"nominal","scale":{"domain":["WT","KO"],"paddingInner":0.364}},"y":{"field":"mean","type":"quantitative","stack":null,"scale":{"domain":[0,1.6],"nice":false,"range":[180,43]},"axis":{"orient":"left","offset":-547.7,"title":"Relative mRNA level of","titleFontSize":12.5,"values":[0,0.4,0.8,1.2,1.6],"format":".1f","titleX":-30,"titleY":190,"titleAlign":"left"}},"fill":{"field":"genotype","type":"nominal","scale":{"domain":["WT","KO"],"range":["#8A8DC4","#2FAE74"]},"legend":null},"stroke":{"field":"genotype","type":"nominal","scale":{"domain":["WT","KO"],"range":["#BFC2E6","#5FD09E"]},"legend":null}}},
  {"data":{"name":"barsB"},"mark":{"type":"rule","strokeWidth":1.4},"encoding":{"xOffset":{"field":"genotype","type":"nominal","scale":{"domain":["WT","KO"],"paddingInner":0.364}},"y":{"field":"mean","type":"quantitative","scale":{"domain":[0,1.6],"nice":false,"range":[180,43]},"axis":null},"y2":{"field":"upper"},"stroke":{"field":"genotype","type":"nominal","scale":{"domain":["WT","KO"],"range":["#A4A8DC","#2CC48C"]},"legend":null}}},
  {"data":{"name":"barsB"},"mark":{"type":"tick","size":16,"thickness":1.4},"encoding":{"xOffset":{"field":"genotype","type":"nominal","scale":{"domain":["WT","KO"],"paddingInner":0.364}},"y":{"field":"upper","type":"quantitative","scale":{"domain":[0,1.6],"nice":false,"range":[180,43]},"axis":null},"stroke":{"field":"genotype","type":"nominal","scale":{"domain":["WT","KO"],"range":["#A4A8DC","#2CC48C"]},"legend":null}}},
  {"data":{"name":"ptsB"},"mark":{"type":"point","filled":false,"size":26,"stroke":"#000000","strokeWidth":1.5,"opacity":1},"encoding":{"xOffset":{"field":"jitter","type":"quantitative","scale":{"domain":[0,45]}},"y":{"field":"value","type":"quantitative","scale":{"domain":[0,1.6],"nice":false,"range":[180,43]},"axis":null}}},
  {"data":{"name":"brB"},"mark":{"type":"line","stroke":"#333333","strokeWidth":1.3},"encoding":{"xOffset":{"field":"genotype","type":"nominal","scale":{"domain":["WT","KO"],"paddingInner":0.364}},"y":{"field":"y","type":"quantitative","scale":{"domain":[0,1.6],"nice":false,"range":[180,43]},"axis":null},"detail":{"field":"group"},"order":{"field":"seq"}}},
  {"data":{"name":"sigB"},"mark":{"type":"text","fill":"#222222"},"encoding":{"y":{"field":"y","type":"quantitative","scale":{"domain":[0,1.6],"nice":false,"range":[180,43]},"axis":{"orient":"left","offset":-547.7,"title":"Mapt","titleFontSize":10,"titleFontStyle":"italic","domain":false,"ticks":false,"labels":false,"titleX":-30,"titleY":58,"titleAlign":"left","values":[0]}},"text":{"field":"label"},"size":{"condition":{"test":"datum.label!=='ns'","value":14},"value":9.5}}}
 ]},
{"resolve":{"scale":{"xOffset":"independent"},"axis":{"y":"independent"}},
 "encoding":{"x":{"field":"group","type":"nominal","scale":{"domain":["Cor","Hip"],"range":[547.7,682.7],"paddingInner":0.38,"paddingOuter":0.13},"axis":{"orient":"bottom","offset":-228.7}}},
 "layer":[
  {"data":{"name":"barsC1"},"mark":{"type":"bar","strokeWidth":1},"encoding":{"xOffset":{"field":"genotype","type":"nominal","scale":{"domain":["WT","KO"],"paddingInner":0.364}},"y":{"field":"mean","type":"quantitative","stack":null,"scale":{"domain":[0,2],"nice":false,"range":[389.3,255]},"axis":{"orient":"left","offset":-547.7,"title":"The level of FMRP isoform 1/Actin","titleX":-29.5,"values":[0,0.5,1,1.5,2],"format":".1f"}},"fill":{"field":"genotype","type":"nominal","scale":{"domain":["WT","KO"],"range":["#8A8DC4","#07BD78"]},"legend":null},"stroke":{"field":"genotype","type":"nominal","scale":{"domain":["WT","KO"],"range":["#BFC2E6","#5FD09E"]},"legend":null}}},
  {"data":{"name":"barsC1"},"mark":{"type":"rule","strokeWidth":1.4},"encoding":{"xOffset":{"field":"genotype","type":"nominal","scale":{"domain":["WT","KO"],"paddingInner":0.364}},"y":{"field":"mean","type":"quantitative","scale":{"domain":[0,2],"nice":false,"range":[389.3,255]},"axis":null},"y2":{"field":"upper"},"stroke":{"field":"genotype","type":"nominal","scale":{"domain":["WT","KO"],"range":["#A4A8DC","#2CC48C"]},"legend":null}}},
  {"data":{"name":"barsC1"},"mark":{"type":"tick","size":16,"thickness":1.4},"encoding":{"xOffset":{"field":"genotype","type":"nominal","scale":{"domain":["WT","KO"],"paddingInner":0.364}},"y":{"field":"upper","type":"quantitative","scale":{"domain":[0,2],"nice":false,"range":[389.3,255]},"axis":null},"stroke":{"field":"genotype","type":"nominal","scale":{"domain":["WT","KO"],"range":["#A4A8DC","#2CC48C"]},"legend":null}}},
  {"data":{"name":"ptsC1"},"mark":{"type":"point","filled":false,"size":26,"stroke":"#000000","strokeWidth":1.5,"opacity":1},"encoding":{"xOffset":{"field":"jitter","type":"quantitative","scale":{"domain":[0,45]}},"y":{"field":"value","type":"quantitative","scale":{"domain":[0,2],"nice":false,"range":[389.3,255]},"axis":null}}},
  {"data":{"name":"brC1"},"mark":{"type":"line","stroke":"#333333","strokeWidth":1.3},"encoding":{"xOffset":{"field":"genotype","type":"nominal","scale":{"domain":["WT","KO"],"paddingInner":0.364}},"y":{"field":"y","type":"quantitative","scale":{"domain":[0,2],"nice":false,"range":[389.3,255]},"axis":null},"detail":{"field":"group"},"order":{"field":"seq"}}},
  {"data":{"name":"sigC1"},"mark":{"type":"text","fill":"#222222"},"encoding":{"y":{"field":"y","type":"quantitative","scale":{"domain":[0,2],"nice":false,"range":[389.3,255]},"axis":null},"text":{"field":"label"},"size":{"value":9.5}}}
 ]},
{"resolve":{"scale":{"xOffset":"independent"},"axis":{"y":"independent"}},
 "encoding":{"x":{"field":"group","type":"nominal","scale":{"domain":["Cor","Hip"],"range":[546.7,684],"paddingInner":0.38,"paddingOuter":0.13},"axis":{"orient":"bottom","offset":-24}}},
 "layer":[
  {"data":{"name":"barsD"},"mark":{"type":"bar","strokeWidth":1},"encoding":{"xOffset":{"field":"genotype","type":"nominal","scale":{"domain":["WT","KO"],"paddingInner":0.364}},"y":{"field":"mean","type":"quantitative","stack":null,"scale":{"domain":[0,1.6],"nice":false,"range":[594,457.3]},"axis":{"orient":"left","offset":-546.7,"title":"Relative mRNA level of","titleFontSize":12.5,"values":[0,0.4,0.8,1.2,1.6],"format":".1f","titleX":-29,"titleY":603,"titleAlign":"left"}},"fill":{"field":"genotype","type":"nominal","scale":{"domain":["WT","KO"],"range":["#8A8DC4","#2BB078"]},"legend":null},"stroke":{"field":"genotype","type":"nominal","scale":{"domain":["WT","KO"],"range":["#BFC2E6","#5FD09E"]},"legend":null}}},
  {"data":{"name":"barsD"},"mark":{"type":"rule","strokeWidth":1.4},"encoding":{"xOffset":{"field":"genotype","type":"nominal","scale":{"domain":["WT","KO"],"paddingInner":0.364}},"y":{"field":"mean","type":"quantitative","scale":{"domain":[0,1.6],"nice":false,"range":[594,457.3]},"axis":null},"y2":{"field":"upper"},"stroke":{"field":"genotype","type":"nominal","scale":{"domain":["WT","KO"],"range":["#A4A8DC","#2CC48C"]},"legend":null}}},
  {"data":{"name":"barsD"},"mark":{"type":"tick","size":16,"thickness":1.4},"encoding":{"xOffset":{"field":"genotype","type":"nominal","scale":{"domain":["WT","KO"],"paddingInner":0.364}},"y":{"field":"upper","type":"quantitative","scale":{"domain":[0,1.6],"nice":false,"range":[594,457.3]},"axis":null},"stroke":{"field":"genotype","type":"nominal","scale":{"domain":["WT","KO"],"range":["#A4A8DC","#2CC48C"]},"legend":null}}},
  {"data":{"name":"ptsD"},"mark":{"type":"point","filled":false,"size":26,"stroke":"#000000","strokeWidth":1.5,"opacity":1},"encoding":{"xOffset":{"field":"jitter","type":"quantitative","scale":{"domain":[0,45]}},"y":{"field":"value","type":"quantitative","scale":{"domain":[0,1.6],"nice":false,"range":[594,457.3]},"axis":null}}},
  {"data":{"name":"brD"},"mark":{"type":"line","stroke":"#333333","strokeWidth":1.3},"encoding":{"xOffset":{"field":"genotype","type":"nominal","scale":{"domain":["WT","KO"],"paddingInner":0.364}},"y":{"field":"y","type":"quantitative","scale":{"domain":[0,1.6],"nice":false,"range":[594,457.3]},"axis":null},"detail":{"field":"group"},"order":{"field":"seq"}}},
  {"data":{"name":"sigD"},"mark":{"type":"text","fill":"#222222"},"encoding":{"y":{"field":"y","type":"quantitative","scale":{"domain":[0,1.6],"nice":false,"range":[594,457.3]},"axis":{"orient":"left","offset":-546.7,"title":"Fmr1","titleFontSize":8.5,"titleFontStyle":"italic","domain":false,"ticks":false,"labels":false,"titleX":-29,"titleY":473,"titleAlign":"left","values":[0]}},"text":{"field":"label"},"size":{"value":9.5}}}
 ]},
{"resolve":{"scale":{"xOffset":"independent"},"axis":{"y":"independent"}},
 "encoding":{"x":{"field":"group","type":"nominal","scale":{"domain":["Cor","Hip"],"range":[81,217.7],"paddingInner":0.38,"paddingOuter":0.13},"axis":{"orient":"bottom","offset":-25.3}}},
 "layer":[
  {"data":{"name":"barsC2"},"mark":{"type":"bar","strokeWidth":1},"encoding":{"xOffset":{"field":"genotype","type":"nominal","scale":{"domain":["WT","KO"],"paddingInner":0.364}},"y":{"field":"mean","type":"quantitative","stack":null,"scale":{"domain":[0,2],"nice":false,"range":[592.7,456.7]},"axis":{"orient":"left","offset":-81,"title":"The level of FMRP isoform 2/Actin","values":[0,0.5,1,1.5,2],"format":".1f"}},"fill":{"field":"genotype","type":"nominal","scale":{"domain":["WT","KO"],"range":["#8A8DC4","#07BD78"]},"legend":null},"stroke":{"field":"genotype","type":"nominal","scale":{"domain":["WT","KO"],"range":["#BFC2E6","#5FD09E"]},"legend":null}}},
  {"data":{"name":"barsC2"},"mark":{"type":"rule","strokeWidth":1.4},"encoding":{"xOffset":{"field":"genotype","type":"nominal","scale":{"domain":["WT","KO"],"paddingInner":0.364}},"y":{"field":"mean","type":"quantitative","scale":{"domain":[0,2],"nice":false,"range":[592.7,456.7]},"axis":null},"y2":{"field":"upper"},"stroke":{"field":"genotype","type":"nominal","scale":{"domain":["WT","KO"],"range":["#A4A8DC","#2CC48C"]},"legend":null}}},
  {"data":{"name":"barsC2"},"mark":{"type":"tick","size":16,"thickness":1.4},"encoding":{"xOffset":{"field":"genotype","type":"nominal","scale":{"domain":["WT","KO"],"paddingInner":0.364}},"y":{"field":"upper","type":"quantitative","scale":{"domain":[0,2],"nice":false,"range":[592.7,456.7]},"axis":null},"stroke":{"field":"genotype","type":"nominal","scale":{"domain":["WT","KO"],"range":["#A4A8DC","#2CC48C"]},"legend":null}}},
  {"data":{"name":"ptsC2"},"mark":{"type":"point","filled":false,"size":26,"stroke":"#000000","strokeWidth":1.5,"opacity":1},"encoding":{"xOffset":{"field":"jitter","type":"quantitative","scale":{"domain":[0,45]}},"y":{"field":"value","type":"quantitative","scale":{"domain":[0,2],"nice":false,"range":[592.7,456.7]},"axis":null}}},
  {"data":{"name":"brC2"},"mark":{"type":"line","stroke":"#333333","strokeWidth":1.3},"encoding":{"xOffset":{"field":"genotype","type":"nominal","scale":{"domain":["WT","KO"],"paddingInner":0.364}},"y":{"field":"y","type":"quantitative","scale":{"domain":[0,2],"nice":false,"range":[592.7,456.7]},"axis":null},"detail":{"field":"group"},"order":{"field":"seq"}}},
  {"data":{"name":"sigC2"},"mark":{"type":"text","fill":"#222222"},"encoding":{"y":{"field":"y","type":"quantitative","scale":{"domain":[0,2],"nice":false,"range":[592.7,456.7]},"axis":null},"text":{"field":"label"},"size":{"value":9.5}}}
 ]},
{"resolve":{"scale":{"xOffset":"independent"},"axis":{"y":"independent"}},
 "encoding":{"x":{"field":"group","type":"nominal","scale":{"domain":["Cor","Hip"],"range":[308.3,445],"paddingInner":0.38,"paddingOuter":0.13},"axis":{"orient":"bottom","offset":-24.3}}},
 "layer":[
  {"data":{"name":"barsC3"},"mark":{"type":"bar","strokeWidth":1},"encoding":{"xOffset":{"field":"genotype","type":"nominal","scale":{"domain":["WT","KO"],"paddingInner":0.364}},"y":{"field":"mean","type":"quantitative","stack":null,"scale":{"domain":[0,2],"nice":false,"range":[593.7,457.7]},"axis":{"orient":"left","offset":-308.3,"title":"The level of FMRP isoform 3/Actin","values":[0,0.5,1,1.5,2],"format":".1f"}},"fill":{"field":"genotype","type":"nominal","scale":{"domain":["WT","KO"],"range":["#8A8DC4","#07BD78"]},"legend":null},"stroke":{"field":"genotype","type":"nominal","scale":{"domain":["WT","KO"],"range":["#BFC2E6","#5FD09E"]},"legend":null}}},
  {"data":{"name":"barsC3"},"mark":{"type":"rule","strokeWidth":1.4},"encoding":{"xOffset":{"field":"genotype","type":"nominal","scale":{"domain":["WT","KO"],"paddingInner":0.364}},"y":{"field":"mean","type":"quantitative","scale":{"domain":[0,2],"nice":false,"range":[593.7,457.7]},"axis":null},"y2":{"field":"upper"},"stroke":{"field":"genotype","type":"nominal","scale":{"domain":["WT","KO"],"range":["#A4A8DC","#2CC48C"]},"legend":null}}},
  {"data":{"name":"barsC3"},"mark":{"type":"tick","size":16,"thickness":1.4},"encoding":{"xOffset":{"field":"genotype","type":"nominal","scale":{"domain":["WT","KO"],"paddingInner":0.364}},"y":{"field":"upper","type":"quantitative","scale":{"domain":[0,2],"nice":false,"range":[593.7,457.7]},"axis":null},"stroke":{"field":"genotype","type":"nominal","scale":{"domain":["WT","KO"],"range":["#A4A8DC","#2CC48C"]},"legend":null}}},
  {"data":{"name":"ptsC3"},"mark":{"type":"point","filled":false,"size":26,"stroke":"#000000","strokeWidth":1.5,"opacity":1},"encoding":{"xOffset":{"field":"jitter","type":"quantitative","scale":{"domain":[0,45]}},"y":{"field":"value","type":"quantitative","scale":{"domain":[0,2],"nice":false,"range":[593.7,457.7]},"axis":null}}},
  {"data":{"name":"brC3"},"mark":{"type":"line","stroke":"#333333","strokeWidth":1.3},"encoding":{"xOffset":{"field":"genotype","type":"nominal","scale":{"domain":["WT","KO"],"paddingInner":0.364}},"y":{"field":"y","type":"quantitative","scale":{"domain":[0,2],"nice":false,"range":[593.7,457.7]},"axis":null},"detail":{"field":"group"},"order":{"field":"seq"}}},
  {"data":{"name":"sigC3"},"mark":{"type":"text","fill":"#222222"},"encoding":{"y":{"field":"y","type":"quantitative","scale":{"domain":[0,2],"nice":false,"range":[593.7,457.7]},"axis":null},"text":{"field":"label"},"size":{"value":9.5}}}
 ]}
]
}
